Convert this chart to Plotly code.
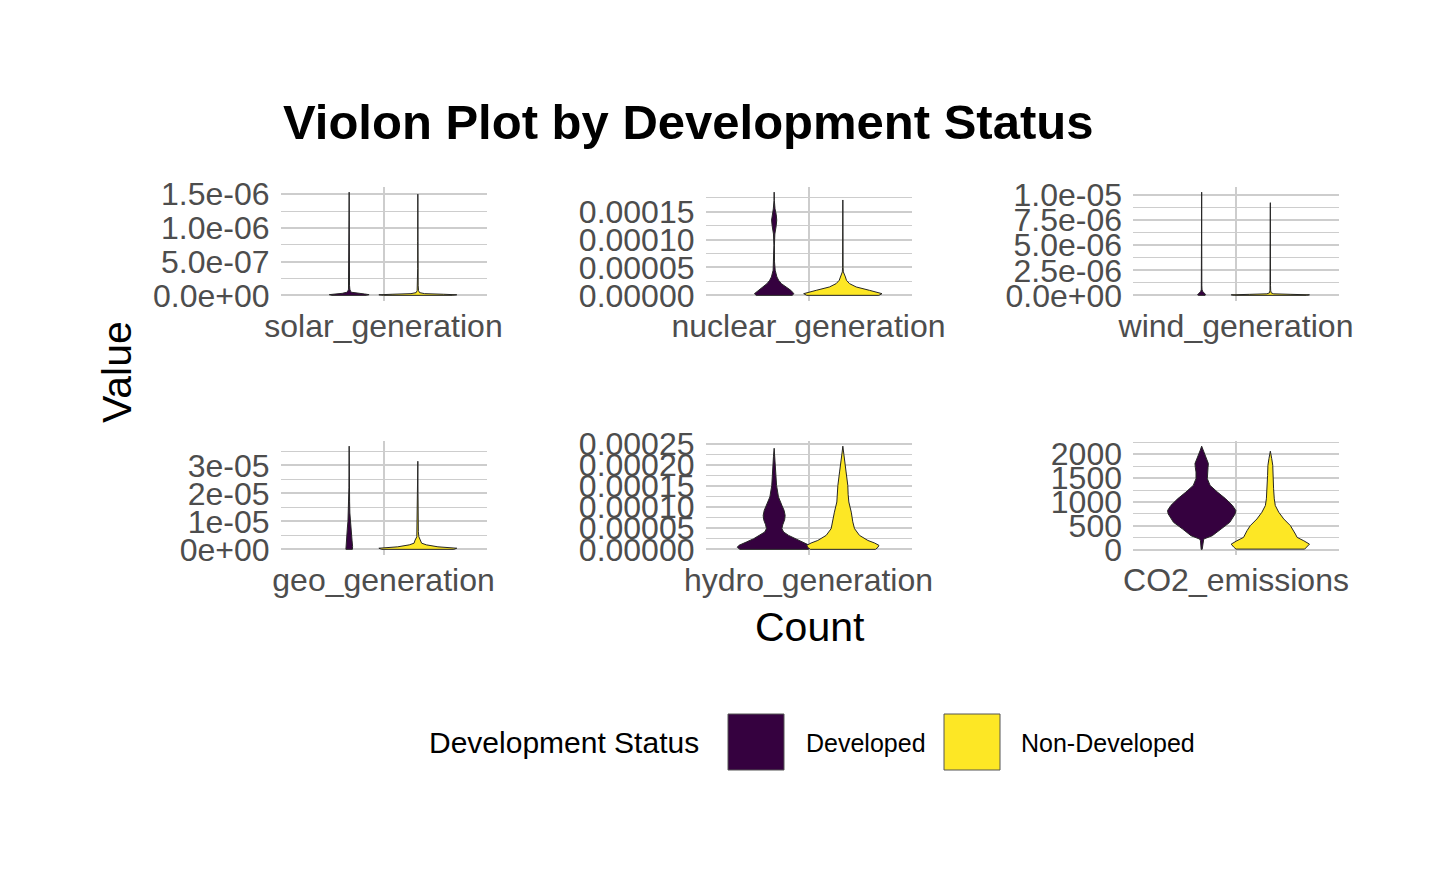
import plotly.graph_objects as go

# ---------------- data ----------------
VARIABLES = ["solar_generation", "nuclear_generation", "wind_generation",
             "geo_generation", "hydro_generation", "CO2_emissions"]
GROUPS = ["Developed", "Non-Developed"]

# Violin outlines: value levels and half-widths (x units) of the density outline
solar_dev_values = [0, 1e-8, 2e-8, 3e-8, 4.5e-8, 6e-8, 9e-8, 1.5e-7, 3e-7, 6e-7, 1.0e-6, 1.53e-6]
solar_dev_widths = [0.10, 0.116, 0.09, 0.04, 0.015, 0.008, 0.004, 0.002, 0.0012, 0.001, 0.0008, 0]
solar_non_values = [0, 8e-9, 1.6e-8, 2.5e-8, 4e-8, 7e-8, 1.5e-7, 4e-7, 8e-7, 1.2e-6, 1.50e-6]
solar_non_widths = [0.20, 0.227, 0.15, 0.04, 0.01, 0.004, 0.002, 0.001, 0.001, 0.0005, 0]

nuclear_dev_values = [0, 0.3e-5, 0.9e-5, 1.5e-5, 2.1e-5, 2.7e-5, 3.3e-5, 4.5e-5, 6e-5, 9e-5,
                      11e-5, 12.5e-5, 13.5e-5, 14.5e-5, 15.5e-5, 17e-5, 18.5e-5]
nuclear_dev_widths = [0.105, 0.115, 0.097, 0.066, 0.042, 0.026, 0.016, 0.006, 0.002, 0.0015,
                      0.004, 0.012, 0.015, 0.012, 0.005, 0.001, 0]
nuclear_non_values = [0, 0.3e-5, 0.9e-5, 1.5e-5, 2.1e-5, 2.7e-5, 3.3e-5, 3.7e-5, 4.2e-5, 5e-5,
                      8e-5, 12e-5, 17.1e-5]
nuclear_non_widths = [0.21, 0.228, 0.155, 0.078, 0.039, 0.021, 0.015, 0.008, 0.003, 0.0015,
                      0.001, 0.001, 0]

wind_dev_values = [0, 5e-8, 1e-7, 2e-7, 3e-7, 4e-7, 6e-7, 1e-6, 3e-6, 6e-6, 1.03e-5]
wind_dev_widths = [0.02, 0.024, 0.022, 0.017, 0.01, 0.005, 0.002, 0.001, 0.0008, 0.0005, 0]
wind_non_values = [0, 5e-8, 1e-7, 1.5e-7, 2.5e-7, 5e-7, 1e-6, 3e-6, 6e-6, 9.25e-6]
wind_non_widths = [0.21, 0.228, 0.12, 0.02, 0.005, 0.002, 0.001, 0.0008, 0.0005, 0]

geo_dev_values = [0, 0.1e-5, 0.3e-5, 0.5e-5, 0.8e-5, 1.0e-5, 1.3e-5, 1.7e-5, 2.2e-5, 3.0e-5, 3.69e-5]
geo_dev_widths = [0.019, 0.02, 0.017, 0.014, 0.01, 0.007, 0.004, 0.0025, 0.0015, 0.0008, 0]
geo_non_values = [0, 0.04e-5, 0.09e-5, 0.16e-5, 0.22e-5, 0.33e-5, 0.45e-5, 0.63e-5, 0.9e-5,
                  1.04e-5, 1.2e-5, 2e-5, 3.15e-5]
geo_non_widths = [0.21, 0.227, 0.117, 0.05, 0.022, 0.016, 0.006, 0.003, 0.002,
                  0.004, 0.0015, 0.001, 0]

hydro_dev_values = [0, 0.5e-5, 0.95e-5, 1.73e-5, 2.5e-5, 3.3e-5, 4.1e-5, 4.9e-5, 5.8e-5, 7.0e-5,
                    8.0e-5, 9.2e-5, 10.4e-5, 12.4e-5, 15.1e-5, 17.5e-5, 19.9e-5, 22e-5, 23.9e-5]
hydro_dev_widths = [0.2, 0.215, 0.205, 0.162, 0.12, 0.084, 0.055, 0.045, 0.05, 0.061,
                    0.064, 0.058, 0.045, 0.025, 0.014, 0.01, 0.008, 0.004, 0]
hydro_non_values = [0, 0.5e-5, 0.95e-5, 1.5e-5, 2.1e-5, 3.3e-5, 4.9e-5, 6.5e-5, 8.8e-5, 11.2e-5,
                    13e-5, 15.1e-5, 18.3e-5, 21.4e-5, 23e-5, 24.4e-5]
hydro_non_widths = [0.19, 0.205, 0.21, 0.185, 0.146, 0.097, 0.068, 0.058, 0.049, 0.035,
                    0.031, 0.029, 0.019, 0.01, 0.004, 0]

co2_dev_values = [10, 100, 189, 225, 295, 435, 575, 751, 821, 926, 1067, 1207, 1347, 1488,
                  1628, 1720, 1804, 1944, 2084, 2168]
co2_dev_widths = [0.003, 0.005, 0.007, 0.012, 0.062, 0.111, 0.164, 0.195, 0.199, 0.18, 0.14,
                  0.092, 0.049, 0.033, 0.033, 0.037, 0.039, 0.023, 0.008, 0]
co2_non_values = [15, 60, 119, 189, 260, 330, 400, 505, 646, 786, 926, 1067, 1277, 1558,
                  1768, 1909, 2063]
co2_non_widths = [0.2, 0.214, 0.228, 0.195, 0.156, 0.146, 0.136, 0.117, 0.078, 0.049, 0.029,
                  0.023, 0.019, 0.016, 0.014, 0.008, 0]

# y tick values and labels per panel
solar_ticks = [0, 5e-7, 1e-6, 1.5e-6]
solar_ticklabels = ["0.0e+00", "5.0e-07", "1.0e-06", "1.5e-06"]
nuclear_ticks = [0, 5e-5, 1e-4, 1.5e-4]
nuclear_ticklabels = ["0.00000", "0.00005", "0.00010", "0.00015"]
wind_ticks = [0, 2.5e-6, 5e-6, 7.5e-6, 1e-5]
wind_ticklabels = ["0.0e+00", "2.5e-06", "5.0e-06", "7.5e-06", "1.0e-05"]
geo_ticks = [0, 1e-5, 2e-5, 3e-5]
geo_ticklabels = ["0e+00", "1e-05", "2e-05", "3e-05"]
hydro_ticks = [0, 5e-5, 1e-4, 1.5e-4, 2e-4, 2.5e-4]
hydro_ticklabels = ["0.00000", "0.00005", "0.00010", "0.00015", "0.00020", "0.00025"]
co2_ticks = [0, 500, 1000, 1500, 2000]
co2_ticklabels = ["0", "500", "1000", "1500", "2000"]

PROFILES = {
    "solar_generation": [(solar_dev_values, solar_dev_widths), (solar_non_values, solar_non_widths)],
    "nuclear_generation": [(nuclear_dev_values, nuclear_dev_widths), (nuclear_non_values, nuclear_non_widths)],
    "wind_generation": [(wind_dev_values, wind_dev_widths), (wind_non_values, wind_non_widths)],
    "geo_generation": [(geo_dev_values, geo_dev_widths), (geo_non_values, geo_non_widths)],
    "hydro_generation": [(hydro_dev_values, hydro_dev_widths), (hydro_non_values, hydro_non_widths)],
    "CO2_emissions": [(co2_dev_values, co2_dev_widths), (co2_non_values, co2_non_widths)],
}
TICKS = {
    "solar_generation": (solar_ticks, solar_ticklabels),
    "nuclear_generation": (nuclear_ticks, nuclear_ticklabels),
    "wind_generation": (wind_ticks, wind_ticklabels),
    "geo_generation": (geo_ticks, geo_ticklabels),
    "hydro_generation": (hydro_ticks, hydro_ticklabels),
    "CO2_emissions": (co2_ticks, co2_ticklabels),
}

# ---------------- style / layout ----------------
W, H = 1440, 889
FONT = "Liberation Sans, Arial, Helvetica, sans-serif"
FILLS = ["#35013F", "#FDE725"]
OUTLINE = "#262626"
GRID = "#CDCDCD"
DODGE = [-0.2, 0.2]
COL_X = [(280.5, 486.5), (705.5, 911.5), (1133, 1339)]
ROW_Y = [(187, 300.5), (441, 554.5)]

fig = go.Figure()
layout = {}

for i, var in enumerate(VARIABLES):
    k = i + 1
    xa, ya = ("x", "y") if k == 1 else (f"x{k}", f"y{k}")
    xname, yname = ("xaxis", "yaxis") if k == 1 else (f"xaxis{k}", f"yaxis{k}")
    all_vals = []
    for g, (vals, widths) in enumerate(PROFILES[var]):
        c = 1 + DODGE[g]
        xs = [c + w for w in widths] + [c - w for w in reversed(widths)] + [c + widths[0]]
        ys = list(vals) + list(reversed(vals)) + [vals[0]]
        all_vals += list(vals)
        fig.add_trace(go.Scatter(
            x=xs, y=ys, xaxis=xa, yaxis=ya, mode="lines", fill="toself",
            fillcolor=FILLS[g], line=dict(color=OUTLINE, width=1),
            name=GROUPS[g], showlegend=False, hoverinfo="skip"))
    lo, hi = min(all_vals), max(all_vals)
    pad = 0.05 * (hi - lo)
    rng = [lo - pad, hi + pad]
    tv, tt = TICKS[var]
    step = tv[1] - tv[0]
    minor = [t + step / 2 for t in [tv[0] - step] + tv]
    minor = [m for m in minor if rng[0] <= m <= rng[1]]

    r, cidx = divmod(i, 3)
    x0, x1 = COL_X[cidx]
    y0, y1 = ROW_Y[r]
    layout[xname] = dict(
        domain=[x0 / W, x1 / W], anchor=ya, range=[0.4, 1.6], automargin=False,
        tickmode="array", tickvals=[1], ticktext=[var],
        showgrid=True, gridcolor=GRID, gridwidth=1.5, zeroline=False,
        showline=False, ticks="", ticklabelstandoff=3,
        tickfont=dict(family=FONT, size=32, color="#4D4D4D"), fixedrange=True)
    layout[yname] = dict(
        domain=[1 - y1 / H, 1 - y0 / H], anchor=xa, range=rng, automargin=False,
        tickmode="array", tickvals=tv, ticktext=tt,
        showgrid=True, gridcolor=GRID, gridwidth=1.5, zeroline=False,
        showline=False, ticks="", ticklabelstandoff=10,
        minor=dict(tickvals=minor, showgrid=True, gridcolor=GRID, gridwidth=1.2, ticks=""),
        tickfont=dict(family=FONT, size=32, color="#4D4D4D"), fixedrange=True)

annotations = [
    dict(text="<b>Violon Plot by Development Status</b>", x=281 / W, y=1 - 122 / H,
         xref="paper", yref="paper", xanchor="left", yanchor="middle", showarrow=False,
         font=dict(family=FONT, size=49, color="black")),
    dict(text="Value", x=117 / W, y=1 - 372 / H, xref="paper", yref="paper",
         xanchor="center", yanchor="middle", textangle=-90, showarrow=False,
         font=dict(family=FONT, size=41, color="black")),
    dict(text="Count", x=810 / W, y=1 - 627 / H, xref="paper", yref="paper",
         xanchor="center", yanchor="middle", showarrow=False,
         font=dict(family=FONT, size=41, color="black")),
    dict(text="Development Status", x=427 / W, y=1 - 742 / H, xref="paper", yref="paper",
         xanchor="left", yanchor="middle", showarrow=False,
         font=dict(family=FONT, size=30, color="black")),
]
KEY_X = [728, 944]
LABEL_X = [804, 1019]
shapes = []
for g, name in enumerate(GROUPS):
    shapes.append(dict(type="rect", xref="paper", yref="paper",
                       x0=KEY_X[g] / W, x1=(KEY_X[g] + 56) / W,
                       y0=1 - 770 / H, y1=1 - 714 / H,
                       fillcolor=FILLS[g], line=dict(color="#555555", width=1)))
    annotations.append(dict(text=name, x=LABEL_X[g] / W, y=1 - 743 / H, xref="paper", yref="paper",
                            xanchor="left", yanchor="middle", showarrow=False,
                            font=dict(family=FONT, size=25, color="black")))

fig.update_layout(
    width=W, height=H, margin=dict(l=0, r=0, t=0, b=0, autoexpand=False),
    paper_bgcolor="white", plot_bgcolor="white", showlegend=False,
    annotations=annotations, shapes=shapes, font=dict(family=FONT), **layout)

fig.write_html("out.html")
